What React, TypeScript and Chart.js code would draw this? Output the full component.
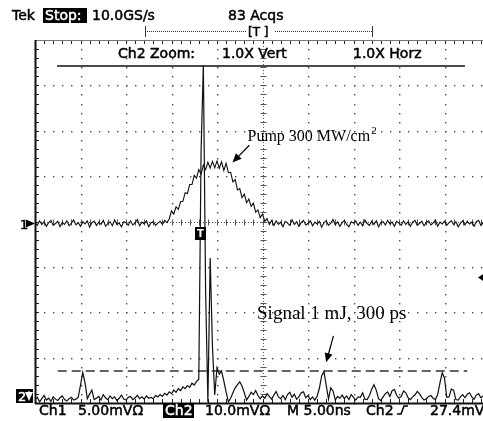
import { useEffect, useRef } from 'react';
import { Chart, registerables } from 'chart.js';
Chart.register(...registerables);

// ---- acquisition settings ----
const sampleStartNs = -25;
const sampleStepNs = 0.25;
const timePerDivNs = 5;
const ch1VoltsPerDiv = 5; // mV/div
const ch2VoltsPerDiv = 10; // mV/div
const ch1OffsetDiv = -0.045;
const ch2OffsetDiv = -3.955;
const xGridNs = [-25, -20, -15, -10, -5, 0, 5, 10, 15, 20, 25];
const yGridDiv = [-4, -3, -2, -1, 0, 1, 2, 3, 4];

// ---- Ch1 (pump) trace, mV ----
const ch1Values = [
  0.1, -0.2, 0.3, -0.1, 0.2, -0.3, 0.1, 0.35, -0.2, 0.0, 0.25, -0.35, 0.15, -0.1, 0.3, -0.25, 0.05, 0.4, -0.15, 0.1,
  -0.3, 0.2, -0.05, 0.3, -0.4, 0.1, 0.25, -0.2, 0.15, -0.1, 0.35, -0.3, 0.0, 0.2, -0.25, 0.4, -0.1, 0.05, -0.35, 0.2,
  0.1, -0.2, 0.3, -0.15, 0.05, 0.45, -0.25, 0.15, -0.05, 0.3, -0.35, 0.1, 0.2, -0.2, 0.05, 0.25, -0.1, 0.35, 0.1, 0.5,
  1.4, 1.05, 1.85, 1.55, 2.4, 2.45, 3.4, 3.3, 4.3, 4.3, 5.3, 5.0, 5.95, 5.45, 6.45, 5.95, 6.75, 6.1, 6.85, 6.15,
  6.9, 6.1, 6.8, 5.85, 6.65, 5.6, 5.65, 4.6, 4.85, 3.7, 3.85, 2.85, 3.25, 2.3, 2.7, 1.9, 2.25, 1.25, 1.5, 0.65,
  1.05, 0.25, 0.55, -0.1, 0.35,
  -0.2, 0.3, -0.1, 0.15, -0.35, 0.25, 0.05, -0.2, 0.4, -0.1, 0.2, -0.3, 0.1, 0.35, -0.15, 0.0, 0.3, -0.25, 0.15, -0.05,
  0.25, -0.4, 0.1, 0.3, -0.2, 0.05, 0.45, -0.15, 0.2, -0.3, 0.1, 0.35, -0.1, -0.35, 0.2, 0.05, 0.3, -0.2, 0.15, -0.25,
  0.4, 0.0, -0.2, 0.25, -0.1, 0.3, -0.35, 0.1, 0.2, -0.15, 0.35, -0.05, 0.15, -0.3, 0.25, 0.05, -0.2, 0.3, -0.1, 0.2,
  -0.3, 0.15, 0.35, -0.2, 0.0, 0.25, -0.25, 0.1, 0.3, -0.15, 0.05, 0.4, -0.3, 0.15, -0.05, 0.25, -0.2, 0.1, 0.3, -0.1,
  0.2, -0.35, 0.05, 0.3, -0.15, 0.25, -0.05, 0.15, -0.3, 0.2, 0.35, -0.2, 0.1, -0.1, 0.25,
];

// ---- Ch2 (signal) trace, mV ----
const ch2Values = [
  0.3, 0.8, -0.2, 0.5, 1.2, 0.2, 0.6, -0.1, 0.9, 0.4, 0.1, 0.7, 1.1, 0.3, 0.0, 0.5, 0.8, 0.2, 0.4,
  0.8, 3.5, 6.3, 4.0, 0.5, 1.5, 2.4, 0.3,
  0.6, 1.0, 0.2, 1.4, 0.7, 0.3, 1.1, 0.5, 0.9, 0.1, 0.6, 1.3, 0.4, 0.2, 0.8, 1.0, 0.3, 0.7, 1.2, 0.5, 0.9, 0.4, 1.1, 0.6,
  0.8, 0.5, 1.2, 0.9, 1.4, 1.0, 1.7, 1.3, 2.0, 1.6, 2.4, 1.9, 2.7, 2.3, 3.1, 2.7, 3.4, 3.0, 3.9, 3.5, 4.3, 4.8,
  55, 74, 24, -0.3, 31.5, 12, 1.3, 7.3, 5.9, 6.6, 4.4, 2.0, -0.2,
  0.6, 1.8, 2.9, 3.6, 4.2, 3.3, 1.8, 0.2, 1.0, 1.9, 1.4, 2.3, 1.2, 0.5, 1.1, 0.6, 1.6, 1.0, 0.4, 1.3,
  2.1, 0.9, 0.5, 1.2, 0.3, 1.4, 1.9, 0.8, 1.5, 0.4, 0.9, 1.8, 2.0, 0.7, 1.2, 0.3, 0.9, 0.2, 1.0, 2.8,
  5.5, 6.5, 3.5, 0.4, 2.9, 2.2, 0.2, 1.0, 0.6, 1.3, 0.5, 1.1, 0.3, 1.4, 0.8, 0.2, 0.9, 0.8, 1.8, 0.4,
  0.3, 1.2, 2.6, 3.6, 2.4, 0.5, 0.1, 0.9, 1.6, 2.0, 1.0, 2.3, 2.5, 1.2, 0.6, 1.0, 2.2, 1.8, 0.7, 0.3,
  0.9, 1.3, 2.1, 1.6, 0.8, 0.2, 0.5, 1.0, 1.2, 0.6, 0.3, 1.4, 4.0, 6.2, 5.0, 0.8, 0.9, 2.6, 2.4, 0.3,
  0.2, 0.9, 1.4, 0.7, 1.5, 1.8, 0.9, 0.4, 1.3, 1.6, 0.7, 1.1, 0.5, 0.8,
];

// ---- reference level line on Ch2 ----
const ch2LevelMv = [6.6];
const ch2LevelSpanNs = [-22.5, 22.5];

function toPoints(values: number[], offsetDiv: number, vPerDiv: number) {
  return values.map((v, i) => ({
    x: (sampleStartNs + i * sampleStepNs),
    y: offsetDiv + v / vPerDiv,
  }));
}

const SCOPE_FONT = '"DejaVu Sans", Verdana, sans-serif';
const SERIF_FONT = '"Liberation Serif", "Times New Roman", serif';

function arrow(ctx: CanvasRenderingContext2D, x1: number, y1: number, x2: number, y2: number) {
  const ang = Math.atan2(y2 - y1, x2 - x1);
  const hl = 9, hw = 4;
  ctx.beginPath();
  ctx.moveTo(x1, y1);
  ctx.lineTo(x2 - Math.cos(ang) * hl * 0.8, y2 - Math.sin(ang) * hl * 0.8);
  ctx.stroke();
  ctx.beginPath();
  ctx.moveTo(x2, y2);
  ctx.lineTo(x2 - Math.cos(ang) * hl - Math.sin(ang) * hw, y2 - Math.sin(ang) * hl + Math.cos(ang) * hw);
  ctx.lineTo(x2 - Math.cos(ang) * hl + Math.sin(ang) * hw, y2 - Math.sin(ang) * hl - Math.cos(ang) * hw);
  ctx.closePath();
  ctx.fill();
}

// slightly heavier scope lettering (scanned look)
function heavyText(ctx: CanvasRenderingContext2D, s: string, px: number, py: number, color: string) {
  ctx.fillStyle = color;
  ctx.strokeStyle = color;
  ctx.lineWidth = 0.5;
  ctx.fillText(s, px, py);
  ctx.strokeText(s, px, py);
}

const scopePlugin = {
  id: 'scopeGraticule',
  beforeDatasetsDraw(chart: any) {
    const { ctx, chartArea: a, scales } = chart;
    const x = scales.x, y = scales.y;
    const minorX: number[] = [];
    for (let t = xGridNs[0]; t <= xGridNs[xGridNs.length - 1] + 1e-9; t += timePerDivNs / 5) minorX.push(t);
    const minorY: number[] = [];
    for (let k = yGridDiv[0] * 5; k <= yGridDiv[yGridDiv.length - 1] * 5; k++) minorY.push(k / 5);
    ctx.save();
    ctx.fillStyle = '#4a4a4a';
    xGridNs.forEach((t, idx) => {
      if (idx === 0 || idx === xGridNs.length - 1 || t === 0) return;
      const px = Math.round(x.getPixelForValue(t));
      minorY.forEach((d) => ctx.fillRect(px, Math.round(y.getPixelForValue(d)), 1.4, 1.4));
    });
    yGridDiv.forEach((d, idx) => {
      if (idx === 0 || idx === yGridDiv.length - 1 || d === 0) return;
      const py = Math.round(y.getPixelForValue(d));
      minorX.forEach((t) => ctx.fillRect(Math.round(x.getPixelForValue(t)), py, 1.4, 1.4));
    });
    const cx = Math.round(x.getPixelForValue(0)) + 0.5;
    const cy = Math.round(y.getPixelForValue(0)) + 0.5;
    ctx.strokeStyle = '#555';
    ctx.lineWidth = 1;
    ctx.setLineDash([1, 2]);
    ctx.beginPath();
    ctx.moveTo(cx, a.top); ctx.lineTo(cx, a.bottom);
    ctx.moveTo(a.left, cy); ctx.lineTo(a.right, cy);
    ctx.stroke();
    ctx.setLineDash([]);
    ctx.beginPath();
    minorY.forEach((d) => { const py = Math.round(y.getPixelForValue(d)) + 0.5; ctx.moveTo(cx - 3, py); ctx.lineTo(cx + 3, py); });
    minorX.forEach((t) => { const px = Math.round(x.getPixelForValue(t)) + 0.5; ctx.moveTo(px, cy - 3); ctx.lineTo(px, cy + 3); });
    ctx.stroke();
    ctx.strokeStyle = '#222';
    ctx.beginPath();
    minorY.forEach((d) => { const py = Math.round(y.getPixelForValue(d)) + 0.5; ctx.moveTo(a.left, py); ctx.lineTo(a.left + 4, py); });
    minorX.forEach((t) => {
      const px = Math.round(x.getPixelForValue(t)) + 0.5;
      ctx.moveTo(px, a.top); ctx.lineTo(px, a.top + 4);
      ctx.moveTo(px, a.bottom); ctx.lineTo(px, a.bottom - 4);
    });
    ctx.stroke();
    ctx.strokeStyle = '#777';
    ctx.beginPath();
    ctx.moveTo(a.left, a.top + 0.5); ctx.lineTo(a.right, a.top + 0.5);
    ctx.stroke();
    ctx.strokeStyle = '#111';
    ctx.lineWidth = 2;
    ctx.beginPath();
    ctx.moveTo(a.left + 0.5, a.top); ctx.lineTo(a.left + 0.5, a.bottom + 1);
    ctx.moveTo(a.left, a.bottom + 0.5); ctx.lineTo(a.right, a.bottom + 0.5);
    ctx.stroke();
    ctx.lineWidth = 1.5;
    ctx.beginPath();
    ctx.moveTo(57, 66); ctx.lineTo(465, 66);
    ctx.stroke();
    ctx.restore();
  },
  afterDatasetsDraw(chart: any) {
    const { ctx, scales } = chart;
    const x = scales.x, y = scales.y;
    ctx.save();
    ctx.textBaseline = 'alphabetic';
    ctx.font = `14px ${SCOPE_FONT}`;
    // header
    heavyText(ctx, 'Tek', 12, 20, '#000');
    ctx.fillStyle = '#000';
    ctx.fillRect(43, 8, 44, 15);
    heavyText(ctx, '10.0GS/s', 92, 20, '#000');
    heavyText(ctx, '83 Acqs', 228, 20, '#000');
    heavyText(ctx, 'Stop:', 45, 20, '#fff');
    // trigger position bar
    ctx.strokeStyle = '#333';
    ctx.lineWidth = 1;
    ctx.setLineDash([1, 1]);
    ctx.beginPath();
    ctx.moveTo(145, 31.5); ctx.lineTo(373, 31.5);
    ctx.stroke();
    ctx.setLineDash([]);
    ctx.beginPath();
    ctx.moveTo(145.5, 26); ctx.lineTo(145.5, 37);
    ctx.moveTo(372.5, 26); ctx.lineTo(372.5, 37);
    ctx.stroke();
    ctx.fillStyle = '#fff';
    ctx.fillRect(247, 25, 28, 13);
    ctx.font = `12px ${SCOPE_FONT}`;
    heavyText(ctx, '[T ]', 248, 36, '#000');
    // zoom header
    ctx.font = `14px ${SCOPE_FONT}`;
    heavyText(ctx, 'Ch2 Zoom:', 118, 58, '#000');
    heavyText(ctx, '1.0X Vert', 222, 58, '#000');
    heavyText(ctx, '1.0X Horz', 353, 58, '#000');
    // channel markers
    ctx.font = `13px ${SCOPE_FONT}`;
    const g1 = y.getPixelForValue(ch1OffsetDiv);
    heavyText(ctx, '1', 20, g1 + 5, '#000');
    ctx.fillStyle = '#000';
    ctx.strokeStyle = '#000';
    ctx.lineWidth = 1.2;
    arrow(ctx, 28, g1, 35, g1);
    ctx.fillRect(16, 389, 17, 14);
    heavyText(ctx, '2', 18, 401, '#fff');
    ctx.strokeStyle = '#fff';
    ctx.lineWidth = 1.2;
    arrow(ctx, 29, 391, 29, 401);
    ctx.fillStyle = '#000';
    // trigger T marker
    ctx.fillRect(195, 227, 11, 13);
    ctx.fillStyle = '#fff';
    ctx.font = `bold 10px ${SCOPE_FONT}`;
    ctx.fillText('T', 197, 237);
    ctx.fillStyle = '#000';
    // trigger level marker (right edge)
    ctx.beginPath();
    ctx.moveTo(478, 277.5); ctx.lineTo(484, 273.5); ctx.lineTo(484, 281.5); ctx.closePath();
    ctx.fill();
    // footer
    ctx.font = `14px ${SCOPE_FONT}`;
    heavyText(ctx, 'Ch1', 39, 415, '#000');
    heavyText(ctx, '5.00mV\u03A9', 78, 415, '#000');
    ctx.fillRect(163, 403, 31, 15);
    heavyText(ctx, '10.0mV\u03A9', 205, 415, '#000');
    heavyText(ctx, 'M 5.00ns', 287, 415, '#000');
    heavyText(ctx, 'Ch2', 366, 415, '#000');
    heavyText(ctx, '27.4mV', 430, 415, '#000');
    heavyText(ctx, 'Ch2', 165, 415, '#fff');
    ctx.fillStyle = '#000';
    ctx.strokeStyle = '#000';
    ctx.lineWidth = 1.6;
    ctx.beginPath();
    ctx.moveTo(397, 414); ctx.lineTo(401, 414); ctx.lineTo(404, 406); ctx.lineTo(408, 406);
    ctx.stroke();
    // annotations
    ctx.font = `16px ${SERIF_FONT}`;
    const pumpX = x.getPixelForValue(-1.65), pumpY = y.getPixelForValue(1.77);
    ctx.fillText('Pump 300 MW/cm', pumpX, pumpY);
    const w = ctx.measureText('Pump 300 MW/cm').width;
    ctx.font = `11px ${SERIF_FONT}`;
    ctx.fillText('2', pumpX + w + 1, pumpY - 7);
    ctx.font = `19px ${SERIF_FONT}`;
    ctx.fillText('Signal 1 mJ, 300 ps', x.getPixelForValue(-0.6), y.getPixelForValue(-2.14));
    ctx.strokeStyle = '#000';
    ctx.lineWidth = 1.2;
    arrow(ctx, x.getPixelForValue(-1.45), y.getPixelForValue(1.68), x.getPixelForValue(-3.3), y.getPixelForValue(1.3));
    arrow(ctx, x.getPixelForValue(7.8), y.getPixelForValue(-2.52), x.getPixelForValue(7.0), y.getPixelForValue(-3.1));
    ctx.restore();
  },
};

export default function App() {
  const ref = useRef<HTMLCanvasElement | null>(null);
  useEffect(() => {
    if (!ref.current) return;
    const levelDiv = ch2OffsetDiv + ch2LevelMv[0] / ch2VoltsPerDiv;
    const chart = new Chart(ref.current, {
      type: 'line',
      data: {
        datasets: [
          {
            label: 'Ch2',
            data: toPoints(ch2Values, ch2OffsetDiv, ch2VoltsPerDiv),
            borderColor: '#111',
            borderWidth: 1.2,
            pointRadius: 0,
            tension: 0,
            order: 1,
          },
          {
            label: 'Ch1',
            data: toPoints(ch1Values, ch1OffsetDiv, ch1VoltsPerDiv),
            borderColor: '#111',
            borderWidth: 1.1,
            pointRadius: 0,
            tension: 0,
            order: 2,
          },
          {
            label: 'level',
            data: ch2LevelSpanNs.map((t) => ({ x: t, y: levelDiv })),
            borderColor: '#333',
            borderWidth: 1.3,
            borderDash: [9, 5],
            pointRadius: 0,
            order: 3,
          },
        ],
      },
      options: {
        animation: false,
        responsive: false,
        maintainAspectRatio: false,
        events: [],
        layout: { padding: { left: 35, right: 10, top: 40, bottom: 18 } },
        plugins: { legend: { display: false }, tooltip: { enabled: false } },
        scales: {
          x: { type: 'linear', min: xGridNs[0], max: xGridNs[xGridNs.length - 1], display: false },
          y: { type: 'linear', min: yGridDiv[0], max: yGridDiv[yGridDiv.length - 1], display: false },
        },
      },
      plugins: [scopePlugin],
    });
    return () => chart.destroy();
  }, []);
  return (
    <div style={{ position: 'fixed', left: 0, top: 0, width: 483, height: 421, overflow: 'hidden', background: '#fff' }}>
      <canvas ref={ref} width={500} height={421} style={{ display: 'block' }} />
    </div>
  );
}
